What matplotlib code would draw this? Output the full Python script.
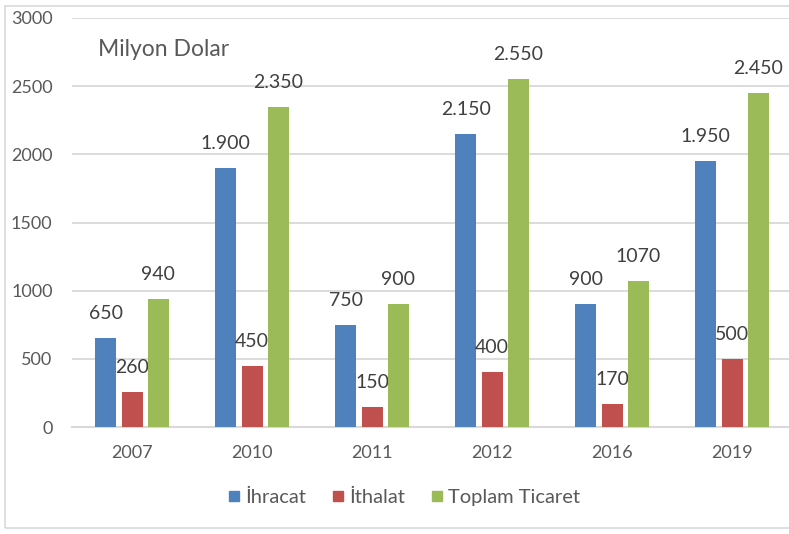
import numpy as np
import matplotlib.pyplot as plt
from matplotlib.patches import Rectangle
from matplotlib.lines import Line2D

years = ["2007", "2010", "2011", "2012", "2016", "2019"]
ihracat = [650, 1900, 750, 2150, 900, 1950]
ithalat = [260, 450, 150, 400, 170, 500]
toplam = [940, 2350, 900, 2550, 1070, 2450]

ihracat_lbl = ["650", "1.900", "750", "2.150", "900", "1.950"]
ithalat_lbl = ["260", "450", "150", "400", "170", "500"]
toplam_lbl = ["940", "2.350", "900", "2.550", "1070", "2.450"]

series = [
    ("İhracat", ihracat, ihracat_lbl, "#4f81bd"),
    ("İthalat", ithalat, ithalat_lbl, "#c0504d"),
    ("Toplam Ticaret", toplam, toplam_lbl, "#9bbb59"),
]

plt.rcParams['font.family'] = ['Lato', 'DejaVu Sans']
txt = "#595959"

W, H = 789, 534
fig = plt.figure(figsize=(W / 100, H / 100), dpi=100)

# chart border
fig.patches.append(Rectangle((5 / W, 6 / H), 1.0, (531 - 6) / H - 3 / H,
                             transform=fig.transFigure, fill=False,
                             edgecolor="#d9d9d9", linewidth=1.2))

ax = fig.add_axes([72 / W, (H - 427) / H, 720 / W, 409 / H])
x = np.arange(len(years))
offsets = [-0.22, 0.0, 0.22]
width = 0.175

for (name, vals, lbls, col), off in zip(series, offsets):
    ax.bar(x + off, vals, width, color=col, label=name, zorder=3)
    for xi, v, s in zip(x, vals, lbls):
        ax.annotate(s, (xi + off, v), xytext=(0, 11.5), textcoords="offset points",
                    ha="center", va="bottom", fontsize=14, color="#404040")

ax.set_xlim(-0.5, len(years) - 0.5)
ax.set_ylim(0, 3000)
ax.set_yticks(range(0, 3001, 500))
ax.set_xticks(x)
ax.set_xticklabels(years)
ax.tick_params(axis="both", length=0, labelsize=13, colors=txt)
ax.tick_params(axis="y", pad=14)
ax.tick_params(axis="x", pad=13)
ax.yaxis.grid(True, color="#d9d9d9", linewidth=1.3, zorder=0)
for side in ["top", "right", "left"]:
    ax.spines[side].set_visible(False)
ax.spines["bottom"].set_color("#d9d9d9")
ax.spines["bottom"].set_linewidth(1.5)
ax.patch.set_alpha(0)

fig.text(98 / W, (H - 50) / H, "Milyon Dolar", fontsize=16.5, color=txt,
         ha="left", va="center")

handles = [Line2D([], [], marker="s", linestyle="none", markersize=7.5,
                  color=col) for _, _, _, col in series]
fig.legend(handles, [s[0] for s in series], loc="center",
           bbox_to_anchor=(402 / W, (H - 497) / H), ncol=3, frameon=False,
           fontsize=14.5, labelcolor=txt, handletextpad=0.05,
           handlelength=1.0, columnspacing=1.1)

fig.savefig("out.png", dpi=100)
